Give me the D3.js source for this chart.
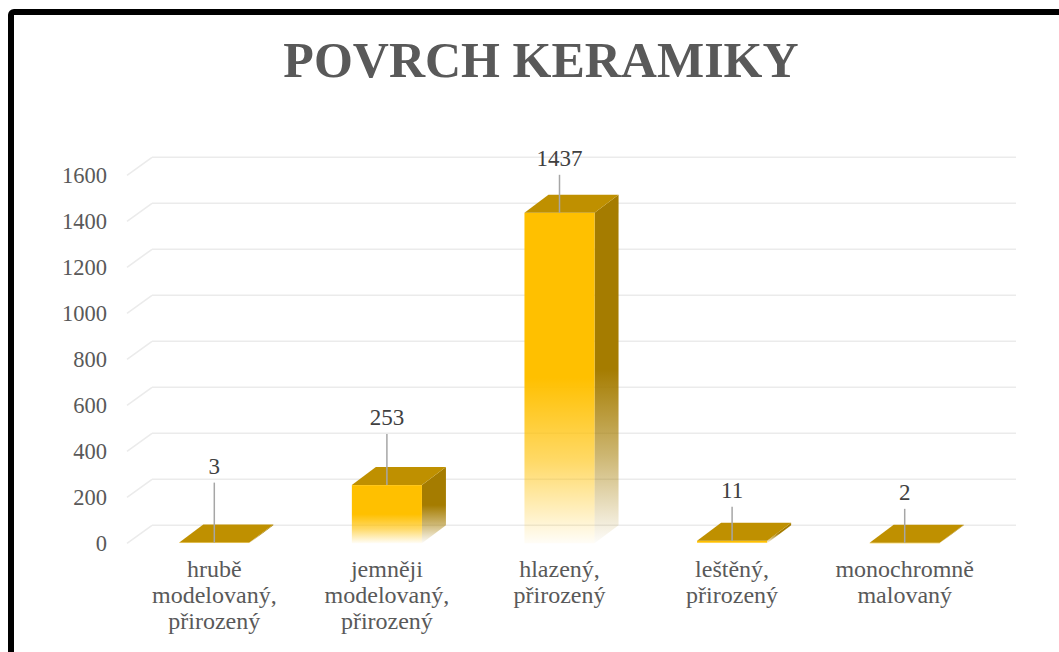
<!DOCTYPE html>
<html>
<head>
<meta charset="utf-8">
<script src="https://cdn.jsdelivr.net/npm/d3@7"></script>
<style>
  body { margin: 0; background: #fff; }
  svg { display: block; }
  svg text { font-family: "Liberation Serif", "Times New Roman", "DejaVu Serif", serif; }
</style>
</head>
<body>
<svg id="chart" width="1059" height="652"></svg>
<script>
// data
const categories = [
    ['hrubě', 'modelovaný,', 'přirozený'],
    ['jemněji', 'modelovaný,', 'přirozený'],
    ['hlazený,', 'přirozený'],
    ['leštěný,', 'přirozený'],
    ['monochromně', 'malovaný']
];
const values = [3, 253, 1437, 11, 2];
const yTicks = [0, 200, 400, 600, 800, 1000, 1200, 1400, 1600];
const title = 'POVRCH KERAMIKY';

// how far each data label sits above its bar (layout, px)
const labelLift = [69, 60, 47, 43, 43];

const svg = d3.select('#chart');
const textColor = '#595959';

// depth of the 3d box
const dx = 24, dy = -18;

const front = { left: 128, right: 991, top: 175.3, bottom: 543.3 };

// frame
svg.append('rect')
    .attr('x', 11).attr('y', 12)
    .attr('width', 1100).attr('height', 700)
    .attr('rx', 3)
    .attr('fill', '#fff')
    .attr('stroke', '#000')
    .attr('stroke-width', 6);

svg.append('text')
    .attr('x', 541).attr('y', 77)
    .attr('text-anchor', 'middle')
    .style('font-weight', 'bold')
    .style('font-size', '50px')
    .attr('fill', textColor)
    .text(title);

const xScale = d3.scaleBand()
    .domain(d3.range(categories.length))
    .range([front.left, front.right])
    .paddingInner(0.594)
    .paddingOuter(0.297);

const yScale = d3.scaleLinear()
    .domain([0, 1600])
    .range([front.bottom, front.top]);

const bw = xScale.bandwidth();

// gradients
const defs = svg.append('defs');
const grad = (id, color, stops) => {
    const g = defs.append('linearGradient')
        .attr('id', id)
        .attr('x1', 0).attr('y1', 0).attr('x2', 0).attr('y2', 1);
    stops.forEach(s => g.append('stop')
        .attr('offset', s[0])
        .attr('stop-color', color)
        .attr('stop-opacity', s[1]));
};
grad('frontGrad', '#FFC000', [[0, 1], [0.5, 1], [0.75, 0.6], [1, 0.03]]);
grad('sideGrad', '#A57C00', [[0, 1], [0.5, 1], [0.75, 0.55], [1, 0.02]]);

// gridlines: back wall + left floor diagonal
const grid = svg.append('g')
    .attr('stroke', '#EBEBEB')
    .attr('stroke-width', 1.6)
    .attr('fill', 'none');

grid.selectAll('line.back').data(yTicks)
    .enter().append('line')
    .attr('x1', front.left + dx)
    .attr('x2', front.right + dx + 1)
    .attr('y1', d => yScale(d) + dy)
    .attr('y2', d => yScale(d) + dy);

grid.selectAll('line.side').data(yTicks)
    .enter().append('line')
    .attr('x1', front.left - 1)
    .attr('y1', d => yScale(d))
    .attr('x2', front.left + dx)
    .attr('y2', d => yScale(d) + dy);

// y axis labels
const yAxisG = svg.append('g')
    .attr('transform', `translate(${front.left}, 0)`)
    .call(d3.axisLeft(yScale)
        .tickValues(yTicks)
        .tickFormat(d3.format('d'))
        .tickSize(0)
        .tickPadding(21));
yAxisG.attr('font-family', null);
yAxisG.select('.domain').remove();
yAxisG.selectAll('text')
    .style('font-size', '22.5px')
    .attr('fill', textColor);

// bars
const bars = svg.append('g');
const y0 = yScale(0);

values.forEach((v, i) => {
    const x = xScale(i);
    const yt = yScale(v);
    const g = bars.append('g');

    g.append('polygon')
        .attr('points', [
            [x + bw, yt], [x + bw + dx, yt + dy],
            [x + bw + dx, y0 + dy], [x + bw, y0]
        ].join(' '))
        .attr('fill', 'url(#sideGrad)');

    g.append('rect')
        .attr('x', x).attr('y', yt)
        .attr('width', bw)
        .attr('height', Math.max(y0 - yt, 0.8))
        .attr('fill', 'url(#frontGrad)');

    g.append('polygon')
        .attr('points', [
            [x, yt], [x + dx, yt + dy],
            [x + bw + dx, yt + dy], [x + bw, yt]
        ].join(' '))
        .attr('fill', '#BF9000');
});

// data labels with leader lines
const labels = svg.append('g');
values.forEach((v, i) => {
    const cx = xScale(i) + bw / 2;
    const yt = yScale(v);
    const base = yt - labelLift[i];
    labels.append('line')
        .attr('x1', cx).attr('x2', cx)
        .attr('y1', base + 9).attr('y2', yt)
        .attr('stroke', '#A6A6A6')
        .attr('stroke-width', 1.5);
    labels.append('text')
        .attr('x', cx).attr('y', base)
        .attr('text-anchor', 'middle')
        .style('font-size', '23px')
        .attr('fill', '#404040')
        .text(v);
});

// category axis
const xAxisG = svg.append('g')
    .attr('transform', `translate(0, ${front.bottom})`)
    .call(d3.axisBottom(xScale).tickSize(0));
xAxisG.attr('font-family', null);
xAxisG.select('.domain').remove();
xAxisG.selectAll('.tick text').remove();
xAxisG.selectAll('.tick').each(function(d) {
    const t = d3.select(this).append('text')
        .attr('y', 34)
        .attr('text-anchor', 'middle')
        .style('font-size', '24px')
        .attr('fill', textColor);
    categories[d].forEach((line, k) => {
        t.append('tspan')
            .attr('x', 0)
            .attr('dy', k === 0 ? 0 : 26)
            .text(line);
    });
});
</script>
</body>
</html>
